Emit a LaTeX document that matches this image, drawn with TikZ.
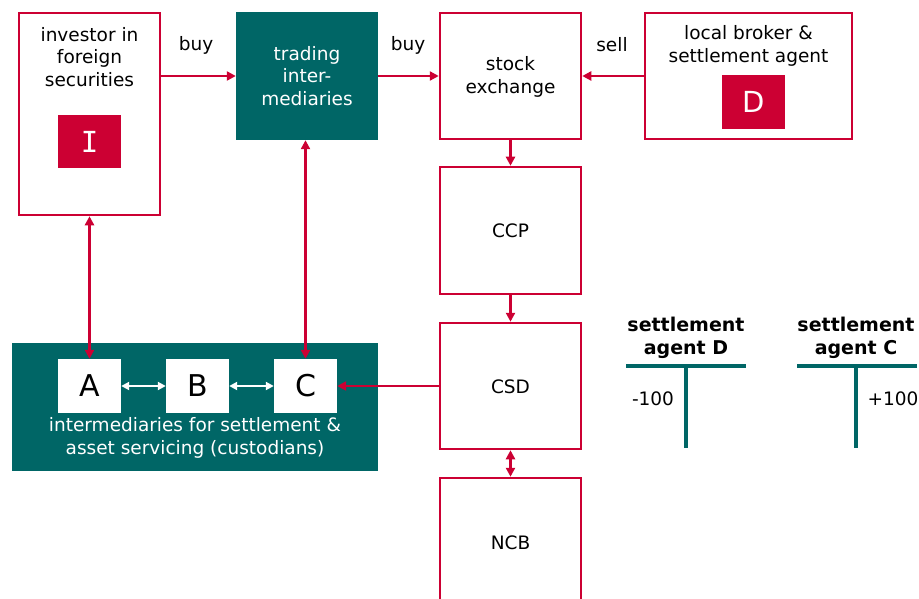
\documentclass[tikz,border=0pt]{standalone}
\usepackage{fontspec}
\setmainfont{DejaVu Sans}
\newfontfamily\monofam{DejaVu Sans Mono}
\usetikzlibrary{arrows.meta}
\definecolor{myred}{RGB}{204,0,51}
\definecolor{myteal}{RGB}{0,102,102}
\tikzset{
  redbox/.style={draw=myred, line width=2.5pt, fill=white, inner sep=0pt},
  tealbox/.style={fill=myteal, draw=none, inner sep=0pt},
  whitebox/.style={fill=white, draw=none, inner sep=0pt, font=\fontsize{30}{34}\selectfont},
  redfill/.style={fill=myred, draw=none, inner sep=0pt, text=white, font=\fontsize{29}{34}\selectfont},
  lbl/.style={align=center, inner sep=0pt, font=\fontsize{18.5}{22.5}\selectfont},
  blbl/.style={align=center, inner sep=0pt, font=\fontsize{19}{23.5}\selectfont\bfseries},
  conn/.style={draw=myred, line width=2.5pt, -{Triangle[length=9pt,width=9pt]}},
  dconn/.style={draw=myred, line width=2.5pt, {Triangle[length=9pt,width=9pt]}-{Triangle[length=9pt,width=9pt]}},
  wconn/.style={draw=white, line width=2.5pt, {Triangle[length=8pt,width=8pt]}-{Triangle[length=8pt,width=8pt]}},
  tline/.style={draw=myteal, line width=3.5pt}
}
\begin{document}
\begin{tikzpicture}[x=1pt,y=-1pt]
\useasboundingbox (0,0) rectangle (919,599);
% boxes
\node[redbox, minimum width=141pt, minimum height=202pt] (inv) at (89.5,114) {};
\node[lbl] (invt) at (89.5,57) {investor in\\foreign\\securities};
\node[redfill, minimum width=63pt, minimum height=53pt] (I) at (89.5,141.5) {\monofam I};

\node[tealbox, minimum width=142pt, minimum height=128pt] (trade) at (307,76) {};
\node[lbl, text=white] (tradet) at (307,76) {trading\\inter-\\mediaries};

\node[redbox, minimum width=141pt, minimum height=126pt] (se) at (510.5,76) {};
\node[lbl] (set) at (510.5,77) {stock\\exchange};

\node[redbox, minimum width=207pt, minimum height=126pt] (lb) at (748.5,76) {};
\node[lbl] (lbt) at (748.5,46) {local broker \&\\settlement agent};
\node[redfill, minimum width=63pt, minimum height=54pt] (D) at (753.5,102) {D};

\node[redbox, minimum width=141pt, minimum height=127pt] (ccp) at (510.5,230.5) {};
\node[lbl] (ccpt) at (510.5,231) {CCP};
\node[redbox, minimum width=141pt, minimum height=126pt] (csd) at (510.5,386) {};
\node[lbl] (csdt) at (510.5,387) {CSD};
\node[redbox, minimum width=141pt, minimum height=140pt] (ncb) at (510.5,548) {};
\node[lbl] (ncbt) at (510.5,543) {NCB};

\node[tealbox, minimum width=366pt, minimum height=128pt] (cust) at (195,407) {};
\node[whitebox, minimum width=63pt, minimum height=54pt] (A) at (89.5,386) {A};
\node[whitebox, minimum width=63pt, minimum height=54pt] (B) at (197.5,386) {B};
\node[whitebox, minimum width=63pt, minimum height=54pt] (C) at (305.5,386) {C};
\node[lbl, text=white] (custt) at (195,438) {intermediaries for settlement \&\\asset servicing (custodians)};

% labels
\node[lbl] (buy1) at (196,45) {buy};
\node[lbl] (buy2) at (408,45) {buy};
\node[lbl] (sell) at (612,45) {sell};

% connectors
\draw[conn] (inv.east |- 0,76) -- (trade.west);
\draw[conn] (trade.east) -- (se.west);
\draw[conn] (lb.west) -- (se.east);
\draw[conn] (se.south) -- (ccp.north);
\draw[conn] (ccp.south) -- (csd.north);
\draw[dconn] (csd.south) -- (ncb.north);
\draw[conn] (csd.west) -- (C.east);
\draw[dconn] (inv.south) -- (A.north);
\draw[dconn] (C.north |- trade.south) -- (C.north);
\draw[wconn] (A.east) -- (B.west);
\draw[wconn] (B.east) -- (C.west);

% T-accounts
\node[blbl] (tD) at (686,338) {settlement\\agent D};
\node[blbl] (tC) at (856,338) {settlement\\agent C};
\coordinate (dL) at (626,366); \coordinate (dR) at (746,366);
\coordinate (dT) at (686,366); \coordinate (dB) at (686,448);
\coordinate (cL) at (797,366); \coordinate (cR) at (917,366);
\coordinate (cT) at (856,366); \coordinate (cB) at (856,448);
\draw[tline] (dL) -- (dR);
\draw[tline] (dT) -- (dB);
\draw[tline] (cL) -- (cR);
\draw[tline] (cT) -- (cB);
\node[lbl] (vD) at (653,399) {-100};
\node[lbl] (vC) at (893,399) {+100};
\end{tikzpicture}
\end{document}
